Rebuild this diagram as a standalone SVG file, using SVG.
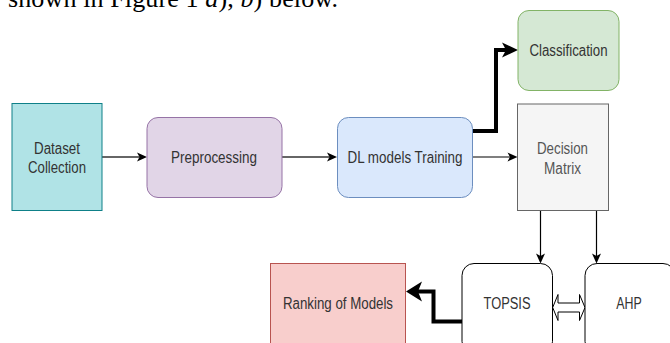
<svg xmlns="http://www.w3.org/2000/svg" width="670" height="343" viewBox="0 0 670 343">
<style>
.lbl{font-family:"Liberation Sans",Arial,sans-serif;font-size:16px;fill:#333;text-anchor:middle;dominant-baseline:central}
.thin{fill:none;stroke:#000;stroke-width:1.2}
.gray{fill:none;stroke:#666;stroke-width:2}
.thick{fill:none;stroke:#000;stroke-width:4;stroke-linejoin:miter}
</style>
<defs>
<marker id="arr" markerUnits="userSpaceOnUse" markerWidth="11" markerHeight="10" refX="2.5" refY="4.5" orient="auto" overflow="visible">
<path d="M0,0 L10,4.5 L0,9 L2.5,4.5 Z" fill="#000"/>
</marker>
<marker id="bigA" markerUnits="userSpaceOnUse" markerWidth="17" markerHeight="16" refX="4" refY="7.5" orient="auto" overflow="visible">
<path d="M0,0 L16,7.5 L0,15 L4,7.5 Z" fill="#000"/>
</marker>
<marker id="bigB" markerUnits="userSpaceOnUse" markerWidth="17" markerHeight="21" refX="4" refY="10" orient="auto" overflow="visible">
<path d="M0,0 L16,10 L0,20 L4,10 Z" fill="#000"/>
</marker>
</defs>
<rect width="670" height="343" fill="#fff"/>
<text x="8" y="7" font-family="'Liberation Serif','Times New Roman',serif" font-size="26" fill="#000" textLength="330">shown in Figure 1 <tspan font-style="italic">a</tspan>), <tspan font-style="italic">b</tspan>) below.</text>

<g id="connectors">
<path class="gray" d="M102,157 L139.5,157" marker-end="url(#arr)"/>
<path class="gray" d="M282,157 L329.5,157" marker-end="url(#arr)"/>
<path class="thin" d="M473,157 L510,157" marker-end="url(#arr)"/>
<path class="thick" d="M473,131 L496,131 L496,50 L506,50" marker-end="url(#bigA)"/>
<path class="thin" d="M540.5,210.5 L540.5,256" marker-end="url(#arr)"/>
<path class="thin" d="M596.5,210.5 L596.5,256" marker-end="url(#arr)"/>
<path class="thick" d="M462,321.5 L433.5,321.5 L433.5,291.5 L418,291.5" marker-end="url(#bigB)"/>
<path d="M552.7,307.5 L558,294.5 L558,303 L579.5,303 L579.5,294.5 L585,307.5 L579.5,320.5 L579.5,312 L558,312 L558,320.5 Z" fill="#fff" stroke="#000" stroke-width="1"/>
</g>

<g id="dataset">
<rect x="12" y="103.5" width="90" height="107" fill="#b0e3e6" stroke="#0e8088"/>
<text class="lbl" x="57" y="148" textLength="46" lengthAdjust="spacingAndGlyphs">Dataset</text>
<text class="lbl" x="57" y="167" textLength="58" lengthAdjust="spacingAndGlyphs">Collection</text>
</g>
<g id="preprocessing">
<rect x="147" y="117.5" width="135" height="80" rx="11" fill="#e1d5e7" stroke="#9673a6"/>
<text class="lbl" x="214" y="157.5" textLength="86" lengthAdjust="spacingAndGlyphs">Preprocessing</text>
</g>
<g id="training">
<rect x="337.5" y="117.5" width="135" height="80" rx="11" fill="#dae8fc" stroke="#6c8ebf"/>
<text class="lbl" x="405" y="157.5" textLength="115" lengthAdjust="spacingAndGlyphs">DL models Training</text>
</g>
<g id="classification">
<rect x="518" y="10.5" width="101" height="80" rx="11" fill="#d5e8d4" stroke="#82b366"/>
<text class="lbl" x="568.5" y="50.5" textLength="78" lengthAdjust="spacingAndGlyphs">Classification</text>
</g>
<g id="decision">
<rect x="517.5" y="104" width="91" height="106.5" fill="#f5f5f5" stroke="#666"/>
<text class="lbl" x="562.5" y="148" textLength="51" lengthAdjust="spacingAndGlyphs" style="fill:#555">Decision</text>
<text class="lbl" x="562.5" y="168" textLength="37" lengthAdjust="spacingAndGlyphs" style="fill:#555">Matrix</text>
</g>
<g id="topsis">
<rect x="462" y="263.5" width="90.5" height="90" rx="12" fill="#fff" stroke="#000"/>
<text class="lbl" x="507" y="303.5" textLength="47" lengthAdjust="spacingAndGlyphs">TOPSIS</text>
</g>
<g id="ahp">
<rect x="585" y="263.5" width="90" height="90" rx="12" fill="#fff" stroke="#000"/>
<text class="lbl" x="629" y="303.5" textLength="25.5" lengthAdjust="spacingAndGlyphs">AHP</text>
</g>
<g id="ranking">
<rect x="270.5" y="263.5" width="135" height="90" fill="#f8cecc" stroke="#b85450"/>
<text class="lbl" x="338" y="303.5" textLength="110" lengthAdjust="spacingAndGlyphs">Ranking of Models</text>
</g>
</svg>
